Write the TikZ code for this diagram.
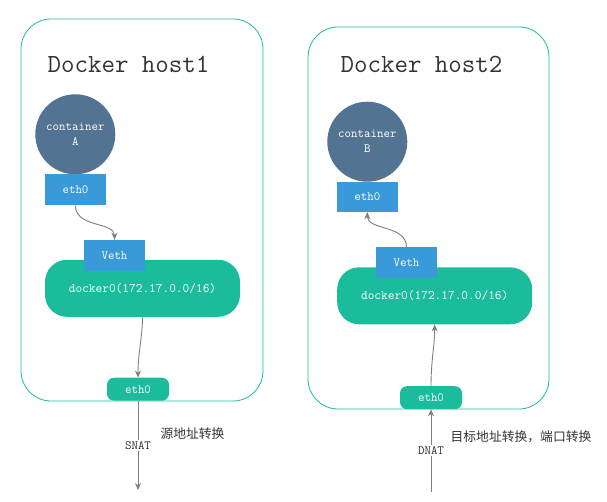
\documentclass[tikz,border=0pt]{standalone}
\usepackage{fontspec}
\newfontfamily\cjk{Noto Sans CJK SC}
\usetikzlibrary{arrows.meta}
\definecolor{tealc}{HTML}{1ABC9C}
\definecolor{bluec}{HTML}{3A99D8}
\definecolor{slatec}{HTML}{537393}
\definecolor{connc}{HTML}{7F7F7F}
\definecolor{textc}{HTML}{333333}
\begin{document}
\begin{tikzpicture}[x=1pt,y=-1pt,
  hostbox/.style={draw=tealc, line width=0.8pt, rounded corners=30pt, inner sep=0pt},
  circ/.style={circle, fill=slatec, text=white, minimum size=80pt, inner sep=0pt, align=center, font=\ttfamily\fontsize{12.6}{15}\selectfont},
  bluebox/.style={fill=bluec, text=white, minimum width=61pt, minimum height=31pt, inner sep=0pt, font=\ttfamily\fontsize{12.6}{13}\selectfont},
  bridge/.style={fill=tealc, text=white, rounded corners=22pt, minimum width=195pt, minimum height=57pt, inner sep=0pt, font=\ttfamily\fontsize{13}{13}\selectfont},
  ethhost/.style={fill=tealc, text=white, rounded corners=7pt, minimum width=62pt, minimum height=23pt, inner sep=0pt, font=\ttfamily\fontsize{12.6}{13}\selectfont},
  conn/.style={draw=connc, line width=0.9pt, -{Stealth[length=7pt,width=6pt]}},
  lbl/.style={fill=white, inner sep=1.5pt, text=textc, font=\ttfamily\fontsize{12.6}{13}\selectfont},
  cjklbl/.style={inner sep=0pt, text=textc, font=\cjk\fontsize{12.8}{14}\selectfont},
  titlec/.style={inner sep=0pt, text=textc, font=\ttfamily\fontsize{26.2}{28}\selectfont}
]
\useasboundingbox (0,0) rectangle (607,502);

% host boxes
\node (host1) [hostbox, minimum width=242pt, minimum height=382pt] at (142,210) {};
\node (host2) [hostbox, minimum width=241pt, minimum height=382pt] at (428.5,218) {};

% titles
\node (t1) [titlec] at (128.5,64) {Docker host1};
\node (t2) [titlec] at (421.5,64) {Docker host2};

% containers
\node (ca) [circ] at (75.3,134.3) {container\\A};
\node (cb) [circ] at (367.3,141.7) {container\\B};

% container eth0
\node (etha) [bluebox] at (75.5,190) {eth0};
\node (ethb) [bluebox, minimum height=30pt] at (367.3,197) {eth0};

% bridges
\node (da) [bridge] at (142.5,288.3) {docker0(172.17.0.0/16)};
\node (db) [bridge] at (434.7,295.8) {docker0(172.17.0.0/16)};

% veth
\node (va) [bluebox] at (114.5,255.5) {Veth};
\node (vb) [bluebox] at (406.5,262.7) {Veth};

% host eth0
\node (h1) [ethhost] at (138,389.2) {eth0};
\node (h2) [ethhost] at (431,397.7) {eth0};

% connectors inside hosts
\draw[conn] (etha.south) .. controls +(0,22) and +(0,-18) .. (va.north);
\draw[conn] (vb.north) .. controls +(0,-22) and +(0,18) .. (ethb.south);
\draw[conn] (da.south) .. controls +(0,20) and +(0,-25) .. (h1.north);
\draw[conn] (h2.north) .. controls +(0,-25) and +(0,20) .. (db.south);

% outside connectors
\coordinate (snatend) at (138,490);
\coordinate (dnatstart) at (431,491.7);
\draw[conn] (h1.south) -- node[lbl] {SNAT} (snatend);
\draw[conn] (dnatstart) -- node[lbl] {DNAT} (h2.south);

% Chinese labels
\node (cn1) [cjklbl] at (192.5,434) {源地址转换};
\node (cn2) [cjklbl] at (521,436.7) {目标地址转换，端口转换};
\end{tikzpicture}
\end{document}
